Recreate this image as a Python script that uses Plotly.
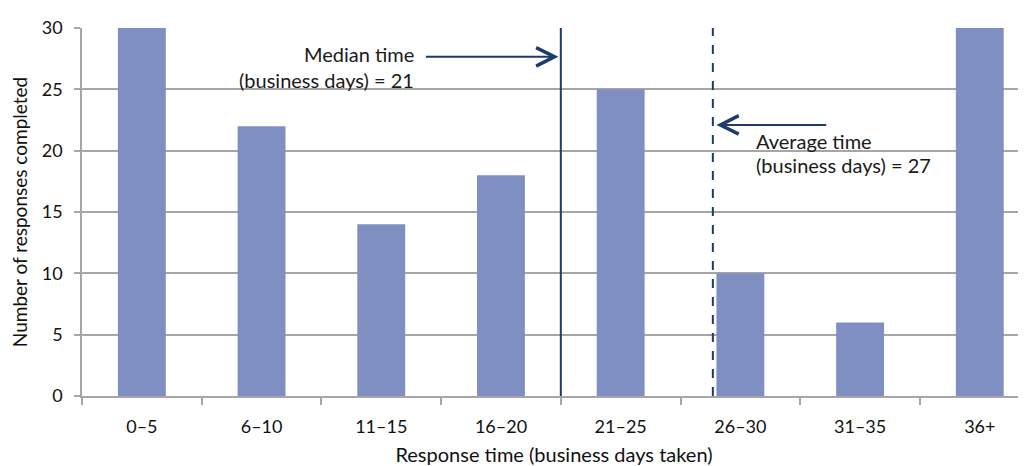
import plotly.graph_objects as go

categories = ["0–5", "6–10", "11–15", "16–20", "21–25", "26–30", "31–35", "36+"]
responses = [30, 22, 14, 18, 25, 10, 6, 30]
y_ticks = [0, 5, 10, 15, 20, 25, 30]
median_pos = 3.5
average_pos = 4.77

BAR = "#7F8FC1"
LINE = "#1F3A6E"
GRID = "#A6A6A6"
FONT = "Lato"

fig = go.Figure()
fig.add_trace(go.Bar(x=list(range(len(categories))), y=responses, width=0.4,
                     marker=dict(color=BAR, line=dict(width=0)), showlegend=False))

fig.add_shape(type="line", xref="x", yref="y", x0=median_pos, x1=median_pos, y0=0, y1=30,
              line=dict(color=LINE, width=2))
fig.add_shape(type="line", xref="x", yref="y", x0=average_pos, x1=average_pos, y0=0, y1=30.2,
              line=dict(color=LINE, width=2, dash="dash"))

# arrows
fig.add_annotation(x=median_pos - 0.02, y=27.65, ax=2.36, ay=27.65, xref="x", yref="y",
                   axref="x", ayref="y", showarrow=True, arrowhead=5, arrowsize=1.8,
                   arrowwidth=2, arrowcolor=LINE, text="")
fig.add_annotation(x=average_pos + 0.03, y=22.1, ax=5.73, ay=22.1, xref="x", yref="y",
                   axref="x", ayref="y", showarrow=True, arrowhead=5, arrowsize=1.8,
                   arrowwidth=2, arrowcolor=LINE, text="")

tf = dict(family=FONT, size=20, color="#1a1a1a")
fig.add_annotation(x=2.29, y=27.9, xref="x", yref="y", text="Median time", showarrow=False,
                   xanchor="right", yanchor="middle", font=tf)
fig.add_annotation(x=2.29, y=25.75, xref="x", yref="y", text="(business days) = 21", showarrow=False,
                   xanchor="right", yanchor="middle", font=tf)
fig.add_annotation(x=5.11, y=20.75, xref="x", yref="y", text="Average time", showarrow=False,
                   xanchor="left", yanchor="middle", font=tf)
fig.add_annotation(x=5.11, y=18.8, xref="x", yref="y", text="(business days) = 27", showarrow=False,
                   xanchor="left", yanchor="middle", font=tf)

fig.update_layout(
    width=1026, height=466,
    margin=dict(l=74, r=8, t=16, b=78),
    paper_bgcolor="white", plot_bgcolor="white",
    font=dict(family=FONT, size=18, color="#111111"),
    bargap=0.6,
)
fig.update_xaxes(
    range=[-0.5, 7.386],
    tickmode="array", tickvals=list(range(len(categories))), ticktext=categories,
    showgrid=False, showline=True, linecolor=GRID, linewidth=1.5,
    ticks="", tickfont=dict(size=18), ticklabelstandoff=14,
    title=dict(text="Response time (business days taken)", font=dict(size=20), standoff=12),
    zeroline=False,
)
# boundary tick marks via minor ticks
fig.update_xaxes(minor=dict(tickmode="array", tickvals=[i - 0.5 for i in range(len(categories) + 1)],
                            ticks="outside", ticklen=7, tickcolor=GRID, tickwidth=1.5, showgrid=False))
fig.update_yaxes(
    range=[0, 30], tickmode="array", tickvals=y_ticks,
    showgrid=True, gridcolor=GRID, gridwidth=1.5,
    showline=True, linecolor=GRID, linewidth=1.5,
    ticks="outside", ticklen=6, tickcolor=GRID, tickwidth=1.5,
    tickfont=dict(size=18), ticklabelstandoff=8,
    title=dict(text="Number of responses completed", font=dict(size=19), standoff=10),
    zeroline=False,
)

fig.write_html("out.html")
